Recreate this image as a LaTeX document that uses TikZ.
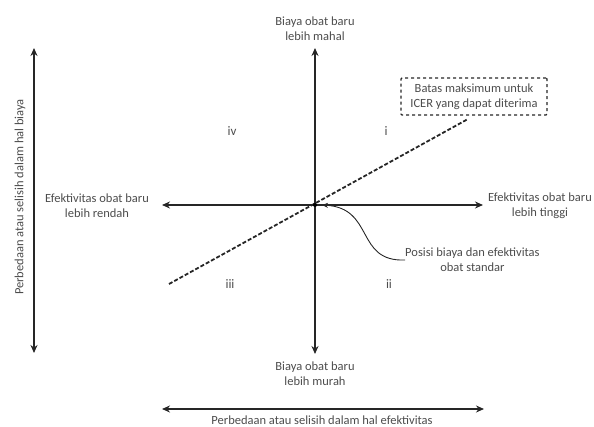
\documentclass[tikz,border=0pt]{standalone}
\usepackage{fontspec}
\setmainfont{Carlito}
\usetikzlibrary{arrows.meta}
\tikzset{
	axis/.style={line width=1.5pt, draw=black!85, -{Stealth[length=8pt,width=7pt]}},
	bothaxis/.style={line width=1.5pt, draw=black!85, {Stealth[length=8pt,width=7pt]}-{Stealth[length=8pt,width=7pt]}},
	lbl/.style={text=black!70, align=center, inner sep=0pt, font=\fontsize{12.5}{15}\selectfont},
	quad/.style={text=black!70, inner sep=0pt, font=\fontsize{13}{15}\selectfont}
}

\begin{document}
\begin{tikzpicture}[x=1pt, y=-1pt]
\useasboundingbox (0,0) rectangle (594,427);
\coordinate (O) at (315,205);
\coordinate (atas) at (315,48);
\coordinate (bawah) at (315,354);
\coordinate (kiri) at (162,205);
\coordinate (kanan) at (483,205);
\coordinate (icerA) at (169,284);
\coordinate (icerB) at (468,119);
\coordinate (biayaA) at (34,48);
\coordinate (biayaB) at (34,353);
\coordinate (efekA) at (162,409);
\coordinate (efekB) at (484,409);

\node [lbl] (mahal) at (315,28.5) {Biaya obat baru\\lebih mahal};
\node [lbl] (murah) at (315,374) {Biaya obat baru\\lebih murah};
\node [lbl] (rendah) at (97,205.5) {Efektivitas obat baru\\lebih rendah};
\node [lbl] (tinggi) at (540,205.5) {Efektivitas obat baru\\lebih tinggi};
\node [lbl, draw=black!85, dashed, line width=1.3pt, rounded corners=1pt, minimum width=146pt, minimum height=37pt] (icer) at (474,96.5) {Batas maksimum untuk\\ICER yang dapat diterima};
\node [lbl, anchor=west] (posisi) at (405,260) {Posisi biaya dan efektivitas\\obat standar};
\node [lbl, rotate=90] (biaya) at (20,197) {Perbedaan atau selisih dalam hal biaya};
\node [lbl] (efek) at (322,420) {Perbedaan atau selisih dalam hal efektivitas};

\node [quad] (q4) at (232,131) {iv};
\node [quad] (q1) at (386,131) {i};
\node [quad] (q3) at (230,284) {iii};
\node [quad] (q2) at (389,284) {ii};

\draw [axis] (O) -- (atas);
\draw [axis] (O) -- (bawah);
\draw [axis] (O) -- (kiri);
\draw [axis] (O) -- (kanan);
\draw [line width=1.8pt, draw=black!85, dash pattern=on 4pt off 2pt] (icerA) -- (icerB);
\fill [black] (O) circle (2);
\draw [black!85, line width=0.9pt, -{Stealth[length=6pt,width=5pt]}] (posisi.west) .. controls (355,262) and (375,208) .. (322,205);

\draw [bothaxis] (biayaA) -- (biayaB);
\draw [bothaxis] (efekA) -- (efekB);
\end{tikzpicture}
\end{document}
